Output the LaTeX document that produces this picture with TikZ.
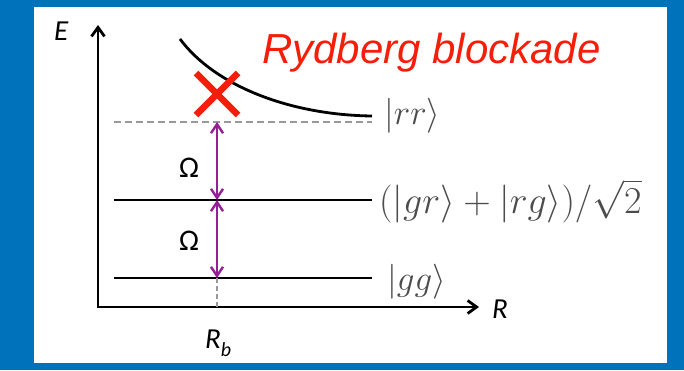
\RequirePackage{fix-cm}
\documentclass[tikz,border=0pt]{standalone}
\usepackage{fontspec}
\setsansfont{Liberation Sans}
\newfontfamily\calibrifont{Carlito}
\usetikzlibrary{arrows.meta}

\definecolor{slideblue}{RGB}{0,114,187}
\definecolor{blockred}{RGB}{245,30,10}
\definecolor{rabipurple}{RGB}{150,30,150}

\tikzset{
  axis/.style={line width=2.8pt,{Straight Barb[length=9pt,width=13pt]}-{Straight Barb[length=9pt,width=13pt]}},
  level/.style={line width=2.8pt},
  rabi/.style={rabipurple,line width=2.4pt,{Straight Barb[length=9pt,width=12pt]}-{Straight Barb[length=9pt,width=12pt]}},
  guide/.style={black!40,line width=2.4pt,dash pattern=on 7pt off 4pt},
  cross/.style={blockred,line width=6.5pt},
  ket/.style={inner sep=0pt,anchor=west,text=black!70,font=\fontsize{35}{40}\selectfont},
  axlabel/.style={inner sep=0pt,anchor=base west,font=\calibrifont\itshape\fontsize{29}{30}\selectfont},
  omega/.style={inner sep=0pt,anchor=base west,font=\calibrifont\fontsize{30}{32}\selectfont},
}

\begin{document}
\begin{tikzpicture}[x=1pt,y=-1pt]
  % frame
  \fill[slideblue] (0,0) rectangle (684,370);
  \fill[white] (34,7) rectangle (667,363);
  \useasboundingbox (0,0) rectangle (684,370);

  % axes
  \coordinate (O) at (98,307);
  \coordinate (Etip) at (98,25);
  \coordinate (Rtip) at (479,307);
  \draw[axis] (Etip) -- (O) -- (Rtip);
  \node[axlabel] (E) at (54,40) {E};
  \node[axlabel] (R) at (492,318) {R};

  % levels
  \coordinate (rrL) at (114,122);
  \coordinate (rrR) at (372,122);
  \coordinate (grL) at (114,200);
  \coordinate (grR) at (372,200);
  \coordinate (ggL) at (114,278);
  \coordinate (ggR) at (372,278);
  \draw[guide] (rrL) -- (rrR);
  \draw[level] (grL) -- (grR);
  \draw[level] (ggL) -- (ggR);

  \node[ket] (rrlab) at (384,116) {$|rr\rangle$};
  \node[ket,font=\fontsize{38}{42}\selectfont] (grlab) at (379,201) {$(|gr\rangle+|rg\rangle)/\sqrt{2}$};
  \node[ket] (gglab) at (387,282) {$|gg\rangle$};

  % interaction curve
  \coordinate (potS) at (180,39);
  \coordinate (potE) at (372,116);
  \draw[level] (potS) .. controls (215,86) and (290,115) .. (potE);

  % couplings at R_b
  \coordinate (rr) at (217,122);
  \coordinate (gr) at (217,200);
  \coordinate (gg) at (217,278);
  \coordinate (Rb) at (217,307);
  \draw[rabi] (rr) -- (gr);
  \draw[rabi] (gr) -- (gg);
  \draw[guide,dash pattern=on 5pt off 3pt] (gg) -- (Rb);
  \node[omega] (om1) at (179,177) {Ω};
  \node[omega] (om2) at (179,250) {Ω};
  \node[axlabel] (Rblab) at (205,348) {R\raisebox{-8pt}{\fontsize{20}{20}\selectfont b}};

  % blocked transition
  \coordinate (X) at (217,94);
  \draw[cross] (X) ++(-21,-21) -- ++(42,42);
  \draw[cross] (X) ++(21,-21) -- ++(-42,42);
  \node[anchor=base west,inner sep=0pt,text=blockred,font=\sffamily\itshape\fontsize{42}{46}\selectfont] (title) at (262,63) {Rydberg blockade};
\end{tikzpicture}
\end{document}
